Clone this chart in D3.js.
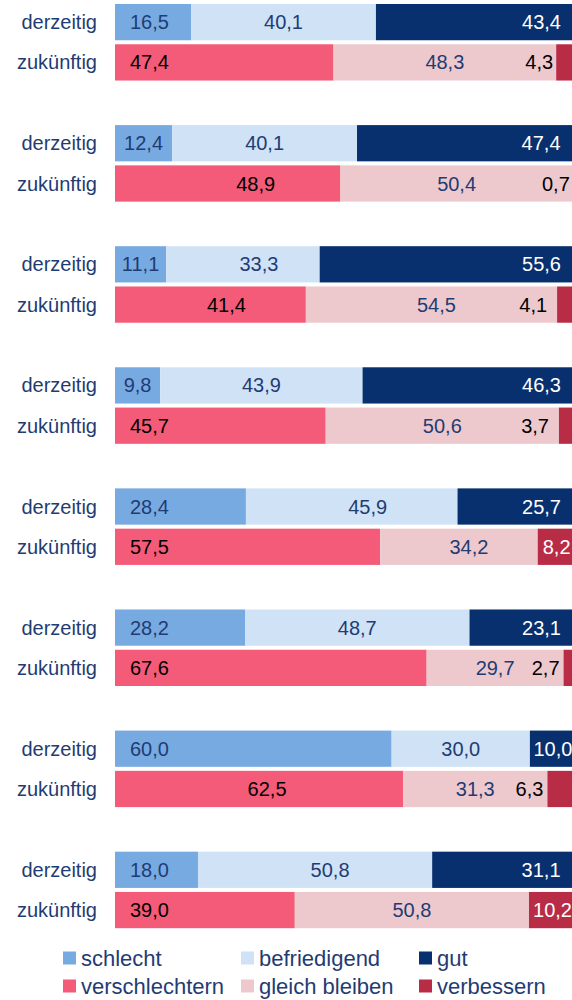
<!DOCTYPE html>
<html lang="de">
<head>
    <meta charset="UTF-8">
    <title>derzeitig / zukünftig</title>
    <style>
        body {
            margin: 0;
            background-color: #fff;
        }
        svg {
            display: block;
            font-family: "Liberation Sans", Arial, sans-serif;
        }
        .cat {
            fill: #1f3c73;
            font-size: 20px;
        }
        .lbl {
            font-size: 20px;
        }
        .legend text {
            fill: #1f3c73;
            font-size: 22px;
        }
    </style>
</head>
<body>

<script src="https://cdnjs.cloudflare.com/ajax/libs/d3/7.8.5/d3.min.js"></script>

<script>
    // rows inside each group
    var rows = ["derzeitig", "zukünftig"];

    var currentSeries = ["schlecht", "befriedigend", "gut"];
    var futureSeries = ["verschlechtern", "gleich bleiben", "verbessern"];

    // derzeitig
    var schlecht     = [16.5, 12.4, 11.1,  9.8, 28.4, 28.2, 60.0, 18.0];
    var befriedigend = [40.1, 40.1, 33.3, 43.9, 45.9, 48.7, 30.0, 50.8];
    var gut          = [43.4, 47.4, 55.6, 46.3, 25.7, 23.1, 10.0, 31.1];

    // zukünftig
    var verschlechtern = [47.4, 48.9, 41.4, 45.7, 57.5, 67.6, 62.5, 39.0];
    var gleichBleiben  = [48.3, 50.4, 54.5, 50.6, 34.2, 29.7, 31.3, 50.8];
    var verbessern     = [ 4.3,  0.7,  4.1,  3.7,  8.2,  2.7,  6.3, 10.2];

    // label placement, one code per segment: b = inside base, m = centre,
    // e = inside end, l = left of the segment; number = small nudge in px
    var currentLabelPos = [
        ["b", "m", "e"], ["m", "m", "e"], ["m", "m16", "e"], ["m", "m", "e"],
        ["b", "m16", "e"], ["b", "m", "e"], ["b", "m", "m"], ["b", "m15", "e"]
    ];
    var futureLabelPos = [
        ["b", "m", "l3"], ["m28", "m", "l3"], ["m16", "m5", "l10"], ["b", "m", "l10"],
        ["b", "m10", "m"], ["b", "m", "l4"], ["m8", "m", "l4"], ["b", "m", "m"]
    ];

    var colors = {
        "schlecht": "#78aae2",
        "befriedigend": "#d0e2f6",
        "gut": "#08306e",
        "verschlechtern": "#f35b78",
        "gleich bleiben": "#edc9ce",
        "verbessern": "#b92c45"
    };
    var labelColors = {
        "schlecht": "#1f3c73",
        "befriedigend": "#1f3c73",
        "gut": "#ffffff",
        "verschlechtern": "#000000",
        "gleich bleiben": "#1f3c73",
        "verbessern": "#ffffff"
    };

    var W = 572, H = 1000;

    var svg = d3.select("body")
        .append("svg")
        .attr("width", W)
        .attr("height", H);

    var groupIdx = d3.range(schlecht.length);

    var x = d3.scaleLinear()
        .domain([0, 100])
        .range([115, 576]);

    var y = d3.scaleBand()
        .domain(groupIdx)
        .range([4, 928.2])
        .paddingInner(0.368)
        .paddingOuter(0);

    var yRow = d3.scaleBand()
        .domain(rows)
        .range([0, y.bandwidth()])
        .paddingInner(0.1);

    var currentTable = groupIdx.map(function (i) {
        return {"schlecht": schlecht[i], "befriedigend": befriedigend[i], "gut": gut[i]};
    });
    var futureTable = groupIdx.map(function (i) {
        return {"verschlechtern": verschlechtern[i], "gleich bleiben": gleichBleiben[i], "verbessern": verbessern[i]};
    });

    var stackCurrent = d3.stack().keys(currentSeries)(currentTable);
    var stackFuture = d3.stack().keys(futureSeries)(futureTable);

    function drawRow(stacked, row, posCodes) {
        var g = svg.append("g");

        var layers = g.selectAll("g.layer")
            .data(stacked)
            .enter()
            .append("g")
            .attr("class", "layer")
            .attr("fill", function (d) { return colors[d.key]; });

        layers.selectAll("rect")
            .data(function (d) { return d; })
            .enter()
            .append("rect")
            .attr("x", function (d) { return x(d[0]); })
            .attr("width", function (d) { return x(d[1]) - x(d[0]); })
            .attr("y", function (d, i) { return y(i) + yRow(row); })
            .attr("height", yRow.bandwidth());

        layers.each(function (layer, si) {
            d3.select(this).selectAll("text")
                .data(layer)
                .enter()
                .append("text")
                .attr("class", "lbl")
                .each(function (d, i) {
                    var code = posCodes[i][si];
                    var kind = code[0];
                    var dx = +code.slice(1) || 0;
                    var x0 = x(d[0]), x1 = x(d[1]);
                    var t = d3.select(this);
                    var fill = labelColors[layer.key];
                    if (kind === "b") {
                        t.attr("x", x0 + 15).attr("text-anchor", "start");
                    } else if (kind === "e") {
                        t.attr("x", x1 - 15).attr("text-anchor", "end");
                    } else if (kind === "l") {
                        t.attr("x", x0 - dx).attr("text-anchor", "end");
                        fill = "#000000";
                    } else {
                        t.attr("x", (x0 + x1) / 2 + dx).attr("text-anchor", "middle");
                    }
                    t.attr("y", y(i) + yRow(row) + yRow.bandwidth() / 2)
                        .attr("dy", "0.35em")
                        .attr("fill", fill)
                        .text(d3.format(".1f")(d[1] - d[0]).replace(".", ","));
                });
        });

        // category labels
        g.selectAll("text.cat")
            .data(groupIdx)
            .enter()
            .append("text")
            .attr("class", "cat")
            .attr("x", 97)
            .attr("y", function (i) { return y(i) + yRow(row) + yRow.bandwidth() / 2; })
            .attr("dy", "0.35em")
            .attr("text-anchor", "end")
            .text(row);
    }

    drawRow(stackCurrent, "derzeitig", currentLabelPos);
    drawRow(stackFuture, "zukünftig", futureLabelPos);

    // legend
    var legendRows = [currentSeries, futureSeries];
    var legendX = d3.scalePoint().domain([0, 1, 2]).range([63, 419]);
    var legendY = d3.scalePoint().domain([0, 1]).range([958, 986]);

    var legend = svg.append("g").attr("class", "legend");

    legendRows.forEach(function (keys, r) {
        var item = legend.selectAll("g.r" + r)
            .data(keys)
            .enter()
            .append("g")
            .attr("class", "r" + r)
            .attr("transform", function (k, c) {
                return "translate(" + legendX(c) + "," + legendY(r) + ")";
            });

        item.append("rect")
            .attr("x", 0)
            .attr("y", -6.5)
            .attr("width", 13)
            .attr("height", 13)
            .attr("fill", function (k) { return colors[k]; });

        item.append("text")
            .attr("x", 18)
            .attr("y", 0)
            .attr("dy", "0.35em")
            .text(function (k) { return k; });
    });
</script>

</body>
</html>
